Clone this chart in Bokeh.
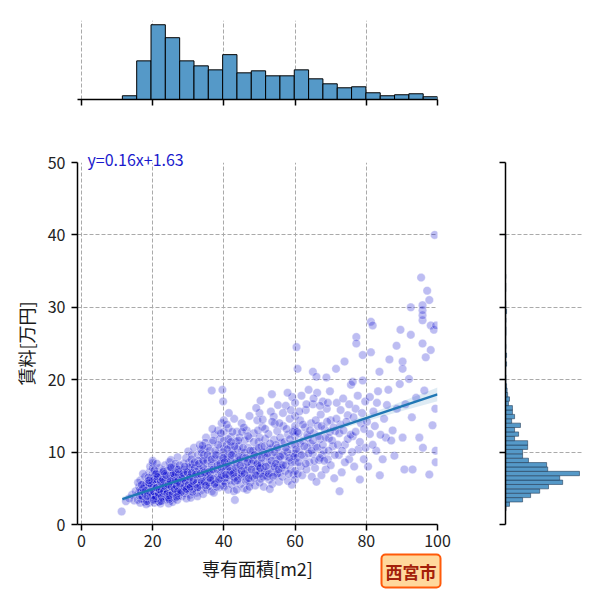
from bokeh.plotting import figure
from bokeh.layouts import column, row
from bokeh.models import Range1d, Title, ColumnDataSource, CustomJSTickFormatter
from bokeh.embed import file_html
from bokeh.resources import INLINE

FONT = "Noto Sans CJK JP"

# listings: (area m2, rent 万円)
small_listings = [
    (11.3, 1.8), (12.5, 3.2), (13.4, 3.6), (14.2, 4.1), (14.8, 3.3), (15.2, 4.6),
    (15.8, 3.4), (16.0, 4.4), (16.2, 5.2), (16.5, 3.0), (16.6, 6.1), (16.9, 4.0), (17.0, 4.8),
    (17.2, 3.6), (17.4, 5.6), (17.6, 4.3), (17.8, 3.1), (17.9, 6.6), (18.0, 5.0), (18.1, 4.0),
    (18.3, 3.5), (18.4, 4.6), (18.5, 5.4), (18.7, 6.0), (18.8, 3.8), (18.9, 4.9), (19.0, 3.0),
    (19.1, 7.2), (19.2, 4.3), (19.3, 5.7), (19.4, 3.6), (19.5, 5.1), (19.5, 6.4), (17.3, 7.0),
    (16.4, 4.8), (15.9, 5.8), (18.2, 2.8), (19.0, 4.7), (17.7, 5.3), (16.8, 3.5), (19.3, 8.0),
    (19.8, 3.3), (19.9, 4.1), (20.0, 4.8), (20.0, 5.5), (20.0, 6.2), (20.0, 7.0), (20.0, 7.8),
    (20.0, 8.5), (20.0, 8.8), (20.1, 3.7), (20.2, 5.1), (20.3, 4.4), (20.4, 6.6), (20.5, 3.0),
    (20.6, 5.8), (20.7, 4.0), (20.8, 4.9), (20.9, 3.5), (21.0, 6.0), (21.0, 5.3), (21.1, 4.5),
    (21.2, 7.3), (21.3, 3.8), (21.4, 5.0), (21.5, 4.2), (21.5, 6.4), (21.6, 3.2), (21.7, 5.6),
    (21.8, 4.7), (21.9, 7.8), (22.0, 4.0), (22.0, 5.2), (22.0, 6.0), (22.1, 3.5), (22.2, 4.6),
    (22.3, 6.8), (22.4, 5.4), (22.5, 3.9), (22.5, 4.9), (22.6, 7.1), (22.7, 4.3), (22.8, 5.8),
    (22.9, 3.4), (23.0, 5.0), (23.0, 6.3), (23.1, 4.5), (23.2, 3.8), (23.3, 5.5), (23.4, 4.1),
    (23.5, 6.6), (23.5, 8.2), (22.2, 2.9), (21.2, 8.4), (23.0, 7.5), (20.6, 6.9), (21.8, 3.1),
    (22.6, 4.4), (20.9, 5.6), (23.3, 4.8), (21.4, 4.6), (22.0, 5.7), (20.4, 4.5), (23.1, 5.9),
    (21.6, 6.9), (22.8, 3.6), (20.7, 3.4), (21.9, 4.3),
    (23.7, 4.2), (23.8, 5.6), (23.9, 3.5), (24.0, 4.8), (24.0, 6.2), (24.1, 7.4), (24.2, 5.2),
    (24.3, 3.9), (24.4, 6.8), (24.5, 4.4), (24.6, 5.8), (24.7, 8.6), (24.8, 4.9), (24.9, 3.3),
    (25.0, 5.4), (25.0, 6.5), (25.0, 7.6), (25.0, 4.1), (25.1, 8.9), (25.2, 5.0), (25.3, 3.7),
    (25.4, 6.0), (25.5, 4.6), (25.6, 7.1), (25.7, 5.5), (25.8, 4.0), (25.9, 6.4), (26.0, 5.1),
    (26.0, 8.0), (26.1, 4.4), (26.2, 3.6), (26.3, 5.8), (26.4, 6.9), (26.5, 4.8), (26.6, 5.3),
    (26.7, 7.7), (26.8, 4.2), (26.9, 6.2), (27.0, 5.0), (27.0, 9.3), (27.1, 3.9), (27.2, 5.6),
    (27.3, 6.6), (27.4, 4.6), (27.5, 7.3), (27.6, 5.2), (24.5, 2.9), (26.4, 8.4), (25.6, 3.1),
    (27.3, 4.0), (24.2, 6.0), (25.8, 5.9), (26.9, 3.4), (24.9, 7.9), (26.2, 6.6),
    (27.8, 4.4), (27.9, 6.0), (28.0, 5.2), (28.0, 7.4), (28.2, 3.9), (28.4, 6.6), (28.5, 4.8),
    (28.7, 8.4), (28.8, 5.6), (29.0, 4.3), (29.1, 7.0), (29.3, 5.9), (29.4, 9.2), (29.6, 5.0),
    (29.8, 6.4), (30.0, 4.6), (30.0, 5.8), (30.0, 7.6), (30.0, 10.1), (30.2, 8.6), (30.4, 5.3),
    (30.5, 6.8), (30.6, 4.1), (30.8, 7.9), (30.9, 5.6), (31.0, 9.6), (31.1, 6.2), (31.3, 4.9),
    (31.4, 7.2), (31.5, 5.4), (31.6, 10.6), (29.5, 3.6), (28.9, 6.3), (30.7, 3.7), (31.2, 8.3),
    (31.8, 5.0), (32.0, 6.6), (32.1, 8.2), (32.3, 4.4), (32.5, 5.8), (32.7, 9.6), (32.9, 7.0),
    (33.0, 5.2), (33.2, 11.0), (33.4, 6.2), (33.5, 4.7), (33.7, 8.0), (33.9, 5.6), (34.0, 7.4),
    (34.0, 9.0), (34.2, 4.2), (34.4, 6.0), (34.5, 10.4), (34.7, 6.9), (34.9, 5.1), (35.0, 8.5),
    (35.0, 12.0), (35.2, 6.4), (35.3, 4.8), (35.5, 7.6), (35.6, 5.7), (32.6, 3.9), (33.8, 9.9),
    (34.8, 11.3), (32.2, 7.3),
    (35.8, 6.8), (36.0, 5.3), (36.2, 9.3), (36.4, 7.5), (36.6, 18.5), (36.6, 4.6), (36.8, 11.3),
    (37.0, 6.1), (37.2, 8.4), (37.4, 12.4), (37.6, 5.6), (37.8, 7.1), (38.0, 9.8), (38.2, 6.6),
    (38.4, 13.0), (38.6, 5.1), (38.8, 8.0), (39.0, 10.7), (39.0, 7.4), (39.2, 6.0), (39.4, 14.0),
    (39.5, 9.0), (39.6, 18.6), (39.7, 5.4), (37.2, 4.4), (38.9, 11.8), (36.1, 10.2),
]

mid_listings = [
    (39.8, 17.0), (40.0, 5.2), (40.0, 6.0), (40.0, 6.9), (40.0, 7.8), (40.0, 8.7), (40.0, 9.6),
    (40.0, 10.6), (40.0, 11.6), (40.0, 12.8), (40.0, 14.4), (40.2, 7.3), (40.4, 5.7), (40.5, 9.0),
    (40.7, 6.5), (40.9, 11.0), (41.0, 8.1), (41.2, 4.8), (41.3, 13.3), (41.5, 7.0), (41.6, 9.8),
    (41.8, 6.1), (42.0, 8.6), (42.0, 12.1), (42.2, 5.5), (42.4, 10.3), (42.5, 7.6), (42.7, 6.6),
    (42.9, 14.6), (43.0, 9.3), (43.1, 5.9), (43.3, 8.0), (43.4, 11.4), (43.6, 6.9), (43.7, 12.8),
    (41.4, 15.4), (42.8, 4.6), (41.9, 10.9), (43.2, 7.2), (40.8, 8.4), (43.1, 3.4),
    (44.0, 6.4), (44.2, 8.8), (44.4, 12.0), (44.6, 5.6), (44.8, 7.6), (45.0, 10.0), (45.0, 14.0),
    (45.2, 6.9), (45.4, 9.2), (45.6, 5.0), (45.8, 11.6), (46.0, 7.2), (46.2, 8.4), (46.4, 13.0),
    (46.6, 6.2), (46.8, 10.6), (47.0, 7.9), (47.2, 15.0), (47.4, 5.8), (47.6, 9.6), (45.1, 12.8),
    (46.5, 4.8), (44.3, 10.8), (47.1, 11.9),
    (48.0, 6.6), (48.2, 9.0), (48.4, 12.6), (48.6, 7.6), (48.8, 5.4), (49.0, 10.4), (49.2, 8.2),
    (49.4, 14.4), (49.6, 6.9), (49.8, 11.4), (50.0, 5.8), (50.0, 7.4), (50.0, 9.6), (50.0, 12.0),
    (50.0, 15.4), (50.2, 8.5), (50.4, 6.3), (50.6, 10.8), (50.8, 13.5), (51.0, 7.9), (51.2, 5.2),
    (51.4, 9.9), (51.6, 11.8), (51.7, 6.8), (49.1, 16.1), (50.9, 14.5), (50.3, 17.1),
    (52.0, 7.2), (52.2, 9.5), (52.5, 12.5), (52.7, 6.2), (53.0, 8.6), (53.2, 15.6), (53.4, 10.6),
    (53.6, 5.6), (53.9, 7.8), (54.1, 11.7), (54.3, 13.9), (54.5, 6.8), (54.7, 9.2), (55.0, 8.0),
    (55.0, 12.9), (55.2, 16.5), (55.4, 7.1), (55.6, 10.2), (52.9, 4.9), (54.0, 14.9), (55.5, 5.9),
    (53.5, 18.0),
    (56.0, 8.4), (56.2, 11.3), (56.4, 6.6), (56.7, 13.6), (57.0, 9.4), (57.2, 7.4), (57.4, 16.4),
    (57.7, 10.4), (58.0, 6.0), (58.0, 12.4), (58.2, 8.8), (58.5, 14.6), (58.8, 7.6), (59.0, 11.0),
    (59.2, 17.6), (59.4, 9.8), (59.6, 6.9), (59.8, 13.0), (56.6, 15.4), (57.9, 18.2), (59.1, 5.5),
]

large_listings = [
    (60.0, 6.2), (60.0, 7.4), (60.0, 8.6), (60.0, 9.8), (60.0, 11.0), (60.0, 12.2), (60.0, 13.6),
    (60.0, 15.0), (60.0, 16.8), (60.4, 24.5), (60.7, 21.5), (60.4, 9.2), (60.7, 7.0), (61.0, 12.6),
    (61.2, 10.2), (61.4, 14.4), (61.6, 8.0), (61.8, 17.8), (62.0, 6.8), (62.2, 11.6), (62.5, 9.4),
    (62.8, 13.4), (63.0, 15.8), (63.2, 7.6), (63.4, 10.6), (63.6, 12.0), (63.8, 18.6),
    (64.0, 8.6), (64.3, 11.2), (64.5, 14.0), (64.7, 6.6), (65.0, 9.8), (65.0, 16.6), (65.0, 21.1),
    (65.3, 12.6), (65.6, 7.8), (65.9, 10.8), (66.2, 18.2), (66.4, 13.6), (66.7, 8.9), (67.0, 11.8),
    (67.2, 15.2), (67.4, 6.8), (67.6, 9.6), (67.8, 17.0), (66.0, 5.9), (66.0, 20.4),
    (68.0, 10.2), (68.3, 13.2), (68.6, 7.6), (68.9, 16.0), (68.8, 20.3), (69.2, 9.0), (69.5, 11.9),
    (69.8, 18.4), (70.0, 8.2), (70.0, 14.4), (71.5, 21.5), (70.6, 10.8), (71.0, 6.4), (71.3, 12.9),
    (71.7, 16.8),
    (73.9, 22.5), (72.3, 9.6), (72.7, 13.8), (73.1, 7.2), (73.5, 17.4), (74.0, 11.0), (72.5, 4.6),
    (74.8, 15.1), (75.2, 9.0), (75.7, 19.3),
    (76.2, 12.2), (76.6, 8.0), (77.0, 16.0), (77.2, 25.9), (77.2, 25.0), (77.8, 10.4), (78.2, 6.2),
    (78.5, 14.0), (79.0, 19.9), (79.0, 23.4), (79.3, 9.0), (79.7, 17.0), (76.2, 19.7),
    (80.5, 8.0), (81.0, 12.5), (81.3, 28.0), (81.8, 27.5), (81.3, 23.8), (82.0, 15.6), (82.8, 10.2),
    (83.3, 18.4), (83.8, 6.8), (83.7, 21.1),
    (84.6, 9.0), (85.5, 12.0), (85.8, 16.5), (86.5, 22.8), (87.0, 11.6), (87.9, 9.5), (88.5, 24.7),
    (89.6, 26.9), (89.4, 19.4), (90.2, 12.0), (90.7, 7.6), (91.0, 16.6), (90.2, 22.5), (90.2, 21.5),
    (92.5, 30.0), (92.5, 26.2), (92.0, 20.1), (92.8, 14.8), (93.0, 7.6), (94.0, 17.5), (94.9, 12.0),
    (95.4, 34.1), (95.8, 28.2), (95.8, 28.9), (95.8, 29.6), (95.8, 30.3), (95.8, 25.0), (95.9, 10.6),
    (96.3, 18.5), (96.7, 23.1), (97.1, 32.3), (97.7, 31.0), (97.7, 6.9), (98.1, 27.5), (98.1, 24.1),
    (98.6, 13.7), (99.0, 26.9), (99.2, 40.0), (99.5, 10.2), (99.5, 8.6), (99.6, 27.5), (99.4, 16.0),
]

# extra listings where the cloud is densest
core_listings = [
    (16.3, 4.0), (16.7, 4.6), (17.1, 3.9), (17.5, 4.5), (17.9, 4.2), (18.2, 5.6), (18.6, 4.4),
    (19.0, 5.3), (19.4, 4.0), (19.7, 4.6), (20.0, 4.2), (20.0, 5.0), (20.3, 5.5), (20.6, 4.3),
    (20.9, 5.0), (21.2, 4.0), (21.5, 5.5), (21.8, 4.9), (22.1, 4.2), (22.4, 5.0), (22.7, 5.5),
    (23.0, 4.3), (23.3, 6.0), (23.6, 5.0), (18.8, 6.5), (20.5, 7.5), (21.0, 3.6), (22.2, 6.5),
    (23.7, 3.8), (17.3, 5.0), (19.6, 3.8), (21.3, 6.2), (22.9, 5.3), (20.1, 4.0), (18.4, 3.2),
    (23.4, 7.0), (16.9, 5.5), (21.7, 4.4), (19.9, 6.0), (22.5, 4.6),
    (24.2, 4.6), (24.6, 5.2), (25.0, 4.4), (25.4, 5.7), (25.8, 4.8), (26.2, 5.5), (26.6, 4.5),
    (27.0, 6.0), (27.4, 5.4), (27.8, 4.7), (28.2, 5.9), (28.6, 5.0), (29.0, 6.5), (29.4, 5.3),
    (29.8, 4.8), (30.0, 6.2), (30.3, 5.0), (30.7, 6.6), (31.1, 5.6), (31.5, 6.9), (24.8, 6.3),
    (25.6, 6.8), (26.4, 7.2), (27.2, 4.3), (28.0, 6.8), (28.8, 7.6), (29.6, 7.3), (30.4, 8.0),
    (31.2, 4.5), (31.8, 7.8), (24.4, 3.7), (26.8, 5.9), (29.2, 4.6), (30.9, 9.0), (27.6, 8.2),
    (32.2, 5.6), (32.6, 6.2), (33.0, 7.6), (33.4, 5.4), (33.8, 6.8), (34.2, 7.9), (34.6, 5.9),
    (35.0, 6.6), (35.4, 8.8), (35.8, 5.8), (36.2, 7.0), (36.6, 8.2), (37.0, 6.3), (37.4, 9.2),
    (37.8, 5.8), (38.2, 7.6), (38.6, 8.9), (39.0, 6.4), (39.4, 7.8), (39.8, 10.0), (32.8, 8.8),
    (33.6, 10.4), (34.4, 9.6), (35.6, 10.6), (36.4, 6.1), (37.6, 10.2), (38.4, 11.0), (39.2, 12.6),
    (36.8, 13.2), (38.0, 5.2),
    (40.3, 6.4), (40.6, 8.0), (41.0, 9.4), (41.4, 6.8), (41.8, 8.9), (42.2, 7.2), (42.6, 9.8),
    (43.0, 6.4), (43.4, 8.6), (43.8, 10.4), (44.2, 7.0), (44.6, 9.0), (45.0, 6.6), (45.4, 8.0),
    (45.8, 9.9), (46.2, 6.0), (46.6, 7.6), (47.0, 9.0), (47.4, 6.8), (47.8, 8.4), (48.2, 10.2),
    (48.6, 6.4), (49.0, 7.4), (49.4, 9.4), (49.8, 8.0), (41.2, 11.8), (42.4, 12.8), (44.0, 11.6),
    (45.6, 13.4), (46.8, 12.2), (48.4, 11.4), (49.6, 13.0), (43.6, 4.8), (47.2, 5.2), (40.8, 13.8),
    (50.2, 7.0), (50.6, 8.4), (51.0, 10.0), (51.4, 7.4), (51.8, 9.2), (52.2, 6.6), (52.6, 8.2),
    (53.0, 10.4), (53.4, 7.2), (53.8, 9.6), (54.2, 8.0), (54.6, 11.0), (55.0, 7.0), (55.4, 9.0),
    (55.8, 12.0), (56.2, 7.8), (56.6, 9.6), (57.0, 11.4), (57.4, 8.2), (57.8, 10.0), (58.2, 7.0),
    (58.6, 11.8), (59.0, 8.6), (59.4, 12.8), (59.8, 9.4), (51.6, 13.2), (53.6, 14.2), (55.6, 14.0),
    (57.6, 13.2), (58.8, 15.8),
    (60.3, 10.4), (60.6, 12.8), (61.0, 8.6), (61.4, 11.2), (61.8, 9.6), (62.2, 13.8), (62.6, 10.8),
    (63.0, 8.4), (63.4, 12.4), (63.8, 9.8), (64.2, 13.0), (64.6, 10.2), (65.0, 11.6), (65.4, 8.8),
    (65.8, 14.4), (66.2, 10.6), (66.6, 12.2), (67.0, 9.2), (67.4, 13.6), (67.8, 11.0), (68.2, 8.8),
    (68.6, 12.0), (69.0, 14.2), (69.4, 10.2), (69.8, 12.8), (61.2, 15.6), (63.2, 16.6), (65.2, 17.4),
    (67.0, 16.4), (69.2, 16.8),
    (70.4, 11.6), (70.8, 13.4), (71.2, 9.6), (71.6, 14.6), (72.0, 11.0), (72.4, 12.6), (72.8, 15.8),
    (73.2, 10.2), (73.6, 13.0), (74.0, 8.6), (74.4, 14.2), (74.8, 11.8), (75.2, 16.6), (75.6, 12.4),
    (76.0, 10.0), (76.4, 14.8), (77.0, 12.8), (77.6, 17.8), (78.2, 11.4), (78.8, 15.4), (79.4, 13.2),
    (79.8, 10.6),
    (80.2, 14.2), (81.0, 17.6), (81.8, 11.0), (82.4, 13.6), (83.0, 16.8), (84.0, 12.4), (85.0, 14.6),
    (86.2, 18.6), (87.4, 13.0), (88.6, 16.0),
]

# more listings inside the darkest band of the cloud
core_listings_2 = [
    (18.1, 4.7), (18.5, 3.9), (18.9, 5.7), (19.3, 4.5), (19.7, 5.4), (20.2, 4.6), (20.5, 6.2),
    (20.8, 3.9), (21.1, 5.1), (21.4, 6.6), (21.7, 4.1), (22.0, 4.8), (22.3, 5.9), (22.6, 3.8),
    (22.9, 6.2), (23.2, 4.6), (23.5, 5.3), (23.8, 6.8), (24.1, 4.3), (24.4, 5.5), (24.7, 4.0),
    (25.0, 6.0), (25.3, 5.2), (25.6, 4.2), (25.9, 7.0), (26.2, 4.9), (26.5, 6.1), (26.8, 5.3),
    (27.1, 4.6), (27.4, 6.9), (27.7, 5.6), (28.0, 4.5), (28.3, 6.3), (28.6, 7.1), (28.9, 5.2),
    (29.2, 6.0), (29.5, 4.9), (29.8, 7.2), (30.1, 5.5), (30.4, 6.5), (19.0, 6.1), (21.0, 7.0),
    (23.0, 7.3), (25.2, 7.9), (27.2, 7.6), (29.0, 8.0), (20.3, 3.4), (22.4, 3.2), (24.6, 3.5),
    (26.7, 3.8),
    (30.7, 5.2), (31.0, 7.1), (31.4, 6.0), (31.8, 8.6), (32.2, 6.9), (32.6, 5.1), (33.0, 8.4),
    (33.4, 7.0), (33.8, 5.9), (34.2, 8.8), (34.6, 7.2), (35.0, 5.4), (35.4, 9.6), (35.8, 7.3),
    (36.2, 6.4), (36.6, 9.0), (37.0, 7.6), (37.4, 5.6), (37.8, 9.6), (38.2, 8.2), (38.6, 6.2),
    (39.0, 8.4), (39.4, 6.8), (39.8, 9.2), (40.2, 8.6), (40.6, 6.9), (41.0, 10.4), (41.4, 8.0),
    (41.8, 7.4), (42.2, 9.6), (42.6, 7.0), (43.0, 10.8), (43.4, 7.8), (43.8, 6.1), (44.2, 9.4),
    (44.6, 8.2), (45.0, 7.4), (34.0, 10.9), (37.0, 11.6), (42.0, 11.4),
    (45.4, 10.6), (45.8, 7.0), (46.2, 9.2), (46.6, 8.6), (47.0, 6.4), (47.4, 10.2), (47.8, 7.6),
    (48.2, 8.8), (48.6, 9.6), (49.0, 6.8), (49.4, 8.4), (49.8, 10.6), (50.2, 7.8), (50.6, 9.2),
    (51.0, 6.6), (51.4, 10.8), (51.8, 8.0), (52.2, 9.8), (52.6, 7.0), (53.0, 11.2), (53.4, 8.8),
    (53.8, 6.6), (54.2, 10.0), (54.6, 8.4), (55.0, 10.6), (55.4, 7.6), (55.8, 9.4), (56.6, 8.2),
    (57.4, 10.6), (58.4, 9.2),
]

listings = small_listings + mid_listings + large_listings + core_listings + core_listings_2
area = [a for a, r in listings]
rent = [r for a, r in listings]

# marginal histogram of area (22 bins)
area_bin_start = 11.5
area_bin_width = 4.023
area_counts = [15, 155, 300, 248, 155, 135, 119, 180, 107, 115, 95,
               95, 119, 83, 63, 47, 51, 27, 15, 19, 23, 11]

# marginal histogram of rent (63 bins)
rent_bin_start = 1.9
rent_bin_width = 0.605
rent_counts = [2, 15, 64, 94, 128, 161, 214, 203, 277, 158, 154, 86, 64, 64, 83, 83,
               34, 49, 34, 56, 23, 34, 26, 26, 11, 15, 8, 6, 4, 2, 2, 1, 1, 4, 1, 4,
               1, 2, 1, 1, 2, 2, 1, 2, 1, 4, 1, 1, 0, 0, 1, 1, 0, 1, 0, 0, 0, 0,
               0, 0, 0, 0, 1]

# regression line y = ax + b and its confidence band
fit_slope = 0.1633
fit_intercept = 1.63
fit_x = [11.5, 100]
band_x = [11.5, 20, 30, 40, 50, 60, 70, 80, 90, 100]
band_half = [0.32, 0.22, 0.15, 0.12, 0.13, 0.18, 0.28, 0.42, 0.65, 0.95]

GRID = "#aaaaaa"
BAR = "#5599c8"
blank = CustomJSTickFormatter(code="return ''")


def style_axis(ax):
    ax.axis_line_width = 1.5
    ax.axis_line_color = "black"
    ax.major_tick_line_width = 1.5
    ax.major_tick_line_color = "black"
    ax.major_tick_out = 6
    ax.major_tick_in = 0
    ax.minor_tick_line_color = None
    ax.major_label_text_font = FONT
    ax.major_label_text_font_size = "16px"
    ax.major_label_text_color = "#222222"


xr = Range1d(-1.1, 100)
yr = Range1d(0, 50)

# main scatter
p = figure(frame_width=360, frame_height=362, x_range=xr, y_range=yr,
           output_backend="svg", toolbar_location=None,
           min_border_left=77, min_border_right=30, min_border_top=34, min_border_bottom=70)
p.outline_line_color = None
for g in (p.xgrid, p.ygrid):
    g.grid_line_color = GRID
    g.grid_line_dash = "4 2"
    g.grid_line_width = 1
p.xaxis.ticker = [0, 20, 40, 60, 80, 100]
p.yaxis.ticker = [0, 10, 20, 30, 40, 50]
style_axis(p.xaxis[0])
style_axis(p.yaxis[0])
p.xaxis.major_label_standoff = 4
p.yaxis.major_label_standoff = 6
p.xaxis.axis_label = "専有面積[m2]"
p.yaxis.axis_label = "賃料[万円]"
for ax in (p.xaxis[0], p.yaxis[0]):
    ax.axis_label_text_font = FONT
    ax.axis_label_text_font_size = "18px"
    ax.axis_label_text_font_style = "normal"
    ax.axis_label_text_color = "#1a1a1a"
p.xaxis.axis_label_standoff = 5
p.yaxis.axis_label_standoff = 6

src = ColumnDataSource(data=dict(area=area, rent=rent))
p.scatter("area", "rent", source=src, size=8.5, fill_color="mediumblue", fill_alpha=0.26,
          line_color="white", line_alpha=0.35, line_width=1)

band_src = ColumnDataSource(data=dict(
    x=band_x,
    lo=[fit_slope * x + fit_intercept - h for x, h in zip(band_x, band_half)],
    hi=[fit_slope * x + fit_intercept + h for x, h in zip(band_x, band_half)],
))
p.varea(x="x", y1="lo", y2="hi", source=band_src, fill_color="#1f77b4", fill_alpha=0.15)
p.line(fit_x, [fit_slope * x + fit_intercept for x in fit_x], line_color="#1f77b4", line_width=2.4)

p.add_layout(Title(text="y=%.2fx+%.2f" % (fit_slope, fit_intercept), align="left", offset=10,
                   standoff=-16, vertical_align="bottom",
                   text_font=FONT, text_font_size="16px", text_font_style="normal",
                   text_color="#1a1acd"), "above")
p.add_layout(Title(text="西宮市", align="right", offset=-3, standoff=-58, vertical_align="top",
                   text_font=FONT, text_font_size="17px", text_font_style="bold",
                   text_color="#a3200a", background_fill_color="#ffd89c",
                   border_line_color="#ff5a0a", border_line_width=2,
                   padding=4, border_radius=4), "below")

# top marginal histogram
top = figure(frame_width=360, frame_height=79, x_range=xr, y_range=Range1d(0, 317),
             output_backend="svg", toolbar_location=None, y_axis_location=None,
             min_border_left=77, min_border_right=30, min_border_top=20, min_border_bottom=29)
top.outline_line_color = None
top.ygrid.grid_line_color = None
top.xgrid.grid_line_color = GRID
top.xgrid.grid_line_dash = "4 2"
top.xaxis.ticker = [0, 20, 40, 60, 80, 100]
style_axis(top.xaxis[0])
top.xaxis.formatter = blank
a_left = [area_bin_start + i * area_bin_width for i in range(len(area_counts))]
top.quad(left=a_left, right=[a + area_bin_width for a in a_left], bottom=0, top=area_counts,
         fill_color=BAR, line_color="black", line_width=1)

# right marginal histogram
right = figure(frame_width=78, frame_height=362, x_range=Range1d(0, 292), y_range=yr,
               output_backend="svg", toolbar_location=None, x_axis_location=None,
               min_border_left=38, min_border_right=8, min_border_top=34, min_border_bottom=70)
right.outline_line_color = None
right.xgrid.grid_line_color = None
right.ygrid.grid_line_color = GRID
right.ygrid.grid_line_dash = "4 2"
right.yaxis.ticker = [0, 10, 20, 30, 40, 50]
style_axis(right.yaxis[0])
right.yaxis.formatter = blank
r_bottom = [rent_bin_start + i * rent_bin_width for i in range(len(rent_counts))]
right.quad(left=0, right=rent_counts, bottom=r_bottom, top=[b + rent_bin_width for b in r_bottom],
           fill_color=BAR, line_color="#1f3550", line_alpha=0.7, line_width=0.8)

layout = column(top, row(p, right))
open("out.html", "w").write(file_html(layout, INLINE))
